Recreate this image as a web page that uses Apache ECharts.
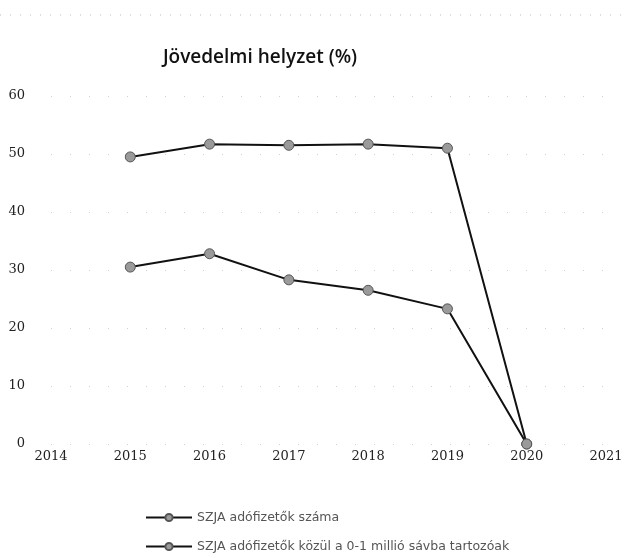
<!DOCTYPE html>
<html>
<head>
<meta charset="utf-8">
<script src="https://cdn.jsdelivr.net/npm/echarts@6/dist/echarts.min.js"></script>
<style>html,body{margin:0;padding:0;background:#fff;}#c{width:627px;height:558px;}</style>
</head>
<body>
<div id="c"></div>
<script>
const years = [2015, 2016, 2017, 2018, 2019, 2020];
const seriesNames = ['SZJA adófizetők száma', 'SZJA adófizetők közül a 0-1 millió sávba tartozóak'];
const totalValues = [49.5, 51.7, 51.5, 51.7, 51.0, 0];
const lowBandValues = [30.5, 32.8, 28.3, 26.5, 23.3, 0];
const yTicks = [0, 10, 20, 30, 40, 50, 60];
const xMin = 2014, xMax = 2021;

const chart = echarts.init(document.getElementById('c'));
const mk = (name, vals) => ({
  name: name,
  type: 'line',
  data: years.map((y, i) => [y, vals[i]]),
  symbol: 'circle',
  symbolSize: 10,
  lineStyle: { color: '#111', width: 2 },
  itemStyle: { color: '#9a9a9a', borderColor: '#555', borderWidth: 1 },
  emphasis: { disabled: true },
  animation: false
});
const legendBase = {
  orient: 'horizontal', left: 140,
  itemWidth: 46, itemHeight: 9,
  textStyle: { fontFamily: 'DejaVu Sans', fontSize: 12.5, color: '#555' }
};
chart.setOption({
  animation: false,
  title: {
    text: 'Jövedelmi helyzet (%)',
    left: 255, top: 43, textAlign: 'center',
    textStyle: { fontFamily: 'Open Sans', fontWeight: 600, fontSize: 19, color: '#111' }
  },
  grid: { left: 51, right: 21, top: 96, bottom: 114 },
  xAxis: {
    type: 'value', min: xMin, max: xMax, interval: 1,
    axisLine: { show: false }, axisTick: { show: false }, splitLine: { show: false },
    axisLabel: { margin: 6, fontFamily: 'DejaVu Serif', fontSize: 13, color: '#222', formatter: v => String(v) }
  },
  yAxis: {
    type: 'value', min: yTicks[0], max: yTicks[yTicks.length - 1], interval: 10,
    axisLine: { show: false }, axisTick: { show: false },
    splitLine: { show: true, lineStyle: { color: '#d0d0d0', width: 1, type: [1, 18] } },
    axisLabel: { margin: 26, align: 'right', fontFamily: 'DejaVu Serif', fontSize: 13, color: '#222' }
  },
  legend: [
    Object.assign({}, legendBase, { top: 506, data: [seriesNames[0]] }),
    Object.assign({}, legendBase, { top: 535, data: [seriesNames[1]] })
  ],
  graphic: [{
    type: 'line', shape: { x1: 0, y1: 15, x2: 627, y2: 15 },
    style: { stroke: '#bbb', lineWidth: 1, lineDash: [1, 9] }
  }],
  series: [mk(seriesNames[0], totalValues), mk(seriesNames[1], lowBandValues)]
});
</script>
</body>
</html>
